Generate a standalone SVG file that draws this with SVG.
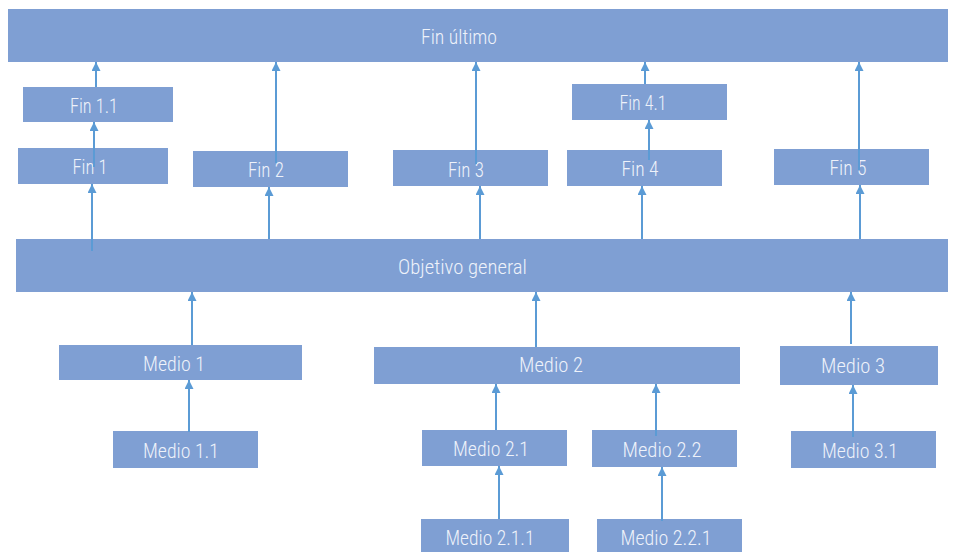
<svg xmlns="http://www.w3.org/2000/svg" width="956" height="552" viewBox="0 0 956 552">
  <defs>
    <style>
      .box { fill: #7f9fd3; }
      .lbl { font-family: "Roboto Condensed", Roboto, "DejaVu Sans Condensed", "Liberation Sans", sans-serif; font-size: 21px; font-weight: 300; fill: #eef2fa; text-anchor: middle; }
      .conn line { stroke: #5b9bd5; stroke-width: 2; marker-end: url(#arrow); }
    </style>
    <marker id="arrow" markerUnits="userSpaceOnUse" markerWidth="9" markerHeight="9" refX="9" refY="4.5" orient="auto">
      <path d="M0,0 L9,4.5 L0,9 z" fill="#5b9bd5"/>
    </marker>
  </defs>
  <rect width="956" height="552" fill="#ffffff"/>

  <g id="fin-ultimo"><rect class="box" x="8" y="9" width="940" height="53"/><text class="lbl" x="459" y="44" textLength="76" lengthAdjust="spacingAndGlyphs">Fin último</text></g>
  <g id="fin-1-1"><rect class="box" x="23" y="87" width="150" height="35"/><text class="lbl" x="94" y="113" textLength="48" lengthAdjust="spacingAndGlyphs">Fin 1.1</text></g>
  <g id="fin-1"><rect class="box" x="18" y="148" width="150" height="36"/><text class="lbl" x="90" y="174" textLength="35" lengthAdjust="spacingAndGlyphs">Fin 1</text></g>
  <g id="fin-2"><rect class="box" x="193" y="151" width="155" height="36"/><text class="lbl" x="266" y="177" textLength="36" lengthAdjust="spacingAndGlyphs">Fin 2</text></g>
  <g id="fin-3"><rect class="box" x="393" y="150" width="155" height="36"/><text class="lbl" x="466" y="177" textLength="36" lengthAdjust="spacingAndGlyphs">Fin 3</text></g>
  <g id="fin-4-1"><rect class="box" x="572" y="84" width="155" height="36"/><text class="lbl" x="643" y="110" textLength="47" lengthAdjust="spacingAndGlyphs">Fin 4.1</text></g>
  <g id="fin-4"><rect class="box" x="567" y="150" width="155" height="36"/><text class="lbl" x="640" y="176" textLength="37" lengthAdjust="spacingAndGlyphs">Fin 4</text></g>
  <g id="fin-5"><rect class="box" x="774" y="149" width="155" height="36"/><text class="lbl" x="848" y="175" textLength="37" lengthAdjust="spacingAndGlyphs">Fin 5</text></g>
  <g id="objetivo-general"><rect class="box" x="16" y="239" width="932" height="53"/><text class="lbl" x="462.5" y="274" textLength="129" lengthAdjust="spacingAndGlyphs">Objetivo general</text></g>
  <g id="medio-1"><rect class="box" x="59" y="345" width="243" height="35"/><text class="lbl" x="174" y="371" textLength="62" lengthAdjust="spacingAndGlyphs">Medio 1</text></g>
  <g id="medio-1-1"><rect class="box" x="113" y="431" width="145" height="37"/><text class="lbl" x="181" y="458" textLength="76" lengthAdjust="spacingAndGlyphs">Medio 1.1</text></g>
  <g id="medio-2"><rect class="box" x="374" y="347" width="366" height="37"/><text class="lbl" x="551" y="372" textLength="64" lengthAdjust="spacingAndGlyphs">Medio 2</text></g>
  <g id="medio-2-1"><rect class="box" x="422" y="430" width="145" height="36"/><text class="lbl" x="491" y="456" textLength="76" lengthAdjust="spacingAndGlyphs">Medio 2.1</text></g>
  <g id="medio-2-2"><rect class="box" x="592" y="430" width="145" height="37"/><text class="lbl" x="662" y="457" textLength="79" lengthAdjust="spacingAndGlyphs">Medio 2.2</text></g>
  <g id="medio-2-1-1"><rect class="box" x="421" y="519" width="148" height="36"/><text class="lbl" x="490" y="545" textLength="89" lengthAdjust="spacingAndGlyphs">Medio 2.1.1</text></g>
  <g id="medio-2-2-1"><rect class="box" x="597" y="519" width="145" height="36"/><text class="lbl" x="666" y="545" textLength="91" lengthAdjust="spacingAndGlyphs">Medio 2.2.1</text></g>
  <g id="medio-3"><rect class="box" x="780" y="346" width="158" height="39"/><text class="lbl" x="853" y="373" textLength="64" lengthAdjust="spacingAndGlyphs">Medio 3</text></g>
  <g id="medio-3-1"><rect class="box" x="791" y="431" width="145" height="37"/><text class="lbl" x="860" y="458" textLength="76" lengthAdjust="spacingAndGlyphs">Medio 3.1</text></g>

  <g id="connectors" class="conn">
    <line x1="96" y1="87" x2="96" y2="62"/>
    <line x1="94" y1="167" x2="94" y2="122"/>
    <line x1="92" y1="251" x2="92" y2="184"/>
    <line x1="276" y1="163" x2="276" y2="62"/>
    <line x1="269" y1="239" x2="269" y2="187"/>
    <line x1="476" y1="164" x2="476" y2="62"/>
    <line x1="480" y1="239" x2="480" y2="186"/>
    <line x1="645" y1="84" x2="645" y2="62"/>
    <line x1="649" y1="160" x2="649" y2="120"/>
    <line x1="642" y1="239" x2="642" y2="186"/>
    <line x1="859" y1="170" x2="859" y2="62"/>
    <line x1="860" y1="239" x2="860" y2="185"/>
    <line x1="192" y1="345" x2="192" y2="292"/>
    <line x1="189" y1="432" x2="189" y2="380"/>
    <line x1="536" y1="347" x2="536" y2="292"/>
    <line x1="496" y1="430" x2="496" y2="384"/>
    <line x1="656" y1="436" x2="656" y2="384"/>
    <line x1="499" y1="519" x2="499" y2="466"/>
    <line x1="662" y1="521" x2="662" y2="467"/>
    <line x1="851" y1="344" x2="851" y2="292"/>
    <line x1="853" y1="437" x2="853" y2="385"/>
  </g>
</svg>
